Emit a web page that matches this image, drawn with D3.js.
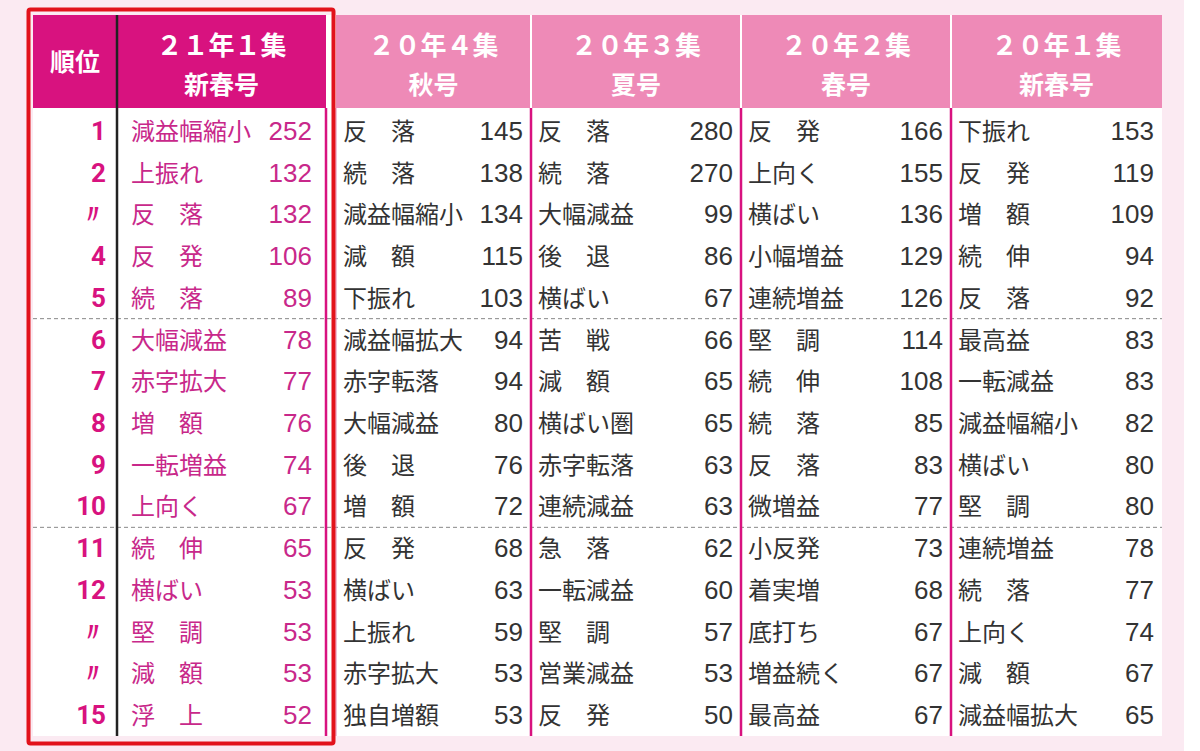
<!DOCTYPE html>
<html><head><meta charset="utf-8">
<script src="https://cdn.jsdelivr.net/npm/d3@7"></script>
<style>body{margin:0;background:#fbeaf2;}svg{display:block;font-family:"Noto Sans CJK JP","Noto Sans",sans-serif;}</style>
</head><body>
<svg width="1200" height="751"></svg>
<script>
// data
var ranks = ["1","2","〃","4","5","6","7","8","9","10","11","12","〃","〃","15"];
var headers1 = ["２１年１集","２０年４集","２０年３集","２０年２集","２０年１集"];
var headers2 = ["新春号","秋号","夏号","春号","新春号"];
var words21_1 = ["減益幅縮小","上振れ","反　落","反　発","続　落","大幅減益","赤字拡大","増　額","一転増益","上向く","続　伸","横ばい","堅　調","減　額","浮　上"];
var vals21_1 = [252,132,132,106,89,78,77,76,74,67,65,53,53,53,52];
var words20_4 = ["反　落","続　落","減益幅縮小","減　額","下振れ","減益幅拡大","赤字転落","大幅減益","後　退","増　額","反　発","横ばい","上振れ","赤字拡大","独自増額"];
var vals20_4 = [145,138,134,115,103,94,94,80,76,72,68,63,59,53,53];
var words20_3 = ["反　落","続　落","大幅減益","後　退","横ばい","苦　戦","減　額","横ばい圏","赤字転落","連続減益","急　落","一転減益","堅　調","営業減益","反　発"];
var vals20_3 = [280,270,99,86,67,66,65,65,63,63,62,60,57,53,50];
var words20_2 = ["反　発","上向く","横ばい","小幅増益","連続増益","堅　調","続　伸","続　落","反　落","微増益","小反発","着実増","底打ち","増益続く","最高益"];
var vals20_2 = [166,155,136,129,126,114,108,85,83,77,73,68,67,67,67];
var words20_1 = ["下振れ","反　発","増　額","続　伸","反　落","最高益","一転減益","減益幅縮小","横ばい","堅　調","連続増益","続　落","上向く","減　額","減益幅拡大"];
var vals20_1 = [153,119,109,94,92,83,83,82,80,80,78,77,74,67,65];

var words = [words21_1, words20_4, words20_3, words20_2, words20_1];
var vals = [vals21_1, vals20_4, vals20_3, vals20_2, vals20_1];

var svg = d3.select("svg");
var magenta = "#d8127f", pinkHead = "#ee8ab7";
var colX = [117, 336, 531, 741, 951], colW = [209, 195, 210, 210, 211];
var tableTop = 15, headH = 93, tableBottom = 736;

var y = d3.scaleBand().domain(d3.range(15)).range([tableTop + headH + 2, tableBottom]);

// white body
svg.append("rect").attr("x", 33).attr("y", tableTop).attr("width", 1129).attr("height", tableBottom - tableTop).attr("fill", "#fff");

// headers
svg.append("rect").attr("x", 33).attr("y", tableTop).attr("width", 293).attr("height", headH).attr("fill", magenta);
svg.append("rect").attr("x", 336).attr("y", tableTop).attr("width", 826).attr("height", headH).attr("fill", pinkHead);
svg.append("text").attr("x", 75).attr("y", tableTop + headH / 2 + 9).attr("text-anchor", "middle")
  .attr("fill", "#fff").attr("font-size", 25).attr("font-weight", "bold").text("順位");
headers1.forEach(function (h, i) {
  var cx = colX[i] + colW[i] / 2;
  svg.append("text").attr("x", cx).attr("y", tableTop + 40).attr("text-anchor", "middle").attr("fill", "#fff")
    .attr("font-size", 26).attr("font-weight", "bold").text(h);
  svg.append("text").attr("x", cx).attr("y", tableTop + 79).attr("text-anchor", "middle").attr("fill", "#fff")
    .attr("font-size", 25).attr("font-weight", "bold").text(headers2[i]);
});

// dashed separators
[5, 10].forEach(function (r) {
  svg.append("line").attr("x1", 33).attr("x2", 1162).attr("y1", y(r)).attr("y2", y(r))
    .attr("stroke", "#888").attr("stroke-dasharray", "4,3").attr("stroke-width", 1);
});

// column lines
svg.append("line").attr("x1", 117).attr("x2", 117).attr("y1", tableTop).attr("y2", tableBottom).attr("stroke", "#222").attr("stroke-width", 2.5);
[326, 531, 741, 951].forEach(function (x) {
  svg.append("line").attr("x1", x).attr("x2", x).attr("y1", tableTop + headH).attr("y2", tableBottom).attr("stroke", magenta).attr("stroke-width", 2.5);
});
[531, 741, 951].forEach(function (x) {
  svg.append("line").attr("x1", x).attr("x2", x).attr("y1", tableTop).attr("y2", tableTop + headH).attr("stroke", "#fff").attr("stroke-width", 2);
});
svg.append("line").attr("x1", 336).attr("x2", 336).attr("y1", tableTop + headH).attr("y2", tableBottom).attr("stroke", "#e080b0").attr("stroke-width", 1);

// ranks
svg.selectAll(".rank").data(ranks).enter().append("text")
  .attr("x", 106).attr("y", function (d, i) { return y(i) + y.bandwidth() / 2 + 9; })
  .attr("text-anchor", "end").attr("fill", magenta).attr("font-size", 26).attr("font-weight", "bold")
  .attr("font-family", "Roboto, sans-serif").text(function (d) { return d; });

// cells
words.forEach(function (col, c) {
  var color = c === 0 ? "#c8288a" : "#333";
  var g = svg.append("g");
  g.selectAll(".w").data(col).enter().append("text")
    .attr("x", colX[c] + (c === 0 ? 14 : 7)).attr("y", function (d, i) { return y(i) + y.bandwidth() / 2 + 9; })
    .attr("fill", color).attr("font-size", 24).text(function (d) { return d; });
  g.selectAll(".v").data(vals[c]).enter().append("text")
    .attr("x", colX[c] + colW[c] - (c === 0 ? 14 : 8)).attr("y", function (d, i) { return y(i) + y.bandwidth() / 2 + 9; })
    .attr("text-anchor", "end").attr("fill", color).attr("font-size", 26)
    .attr("font-family", "'Liberation Sans', Arial, sans-serif").text(function (d) { return d; });
});

// red frame
svg.append("rect").attr("x", 28.5).attr("y", 9.5).attr("width", 305).attr("height", 734).attr("rx", 2)
  .attr("fill", "none").attr("stroke", "#e2121b").attr("stroke-width", 4);
// right white strip
svg.append("rect").attr("x", 1184).attr("y", 0).attr("width", 16).attr("height", 751).attr("fill", "#fff");
</script>
</body></html>
